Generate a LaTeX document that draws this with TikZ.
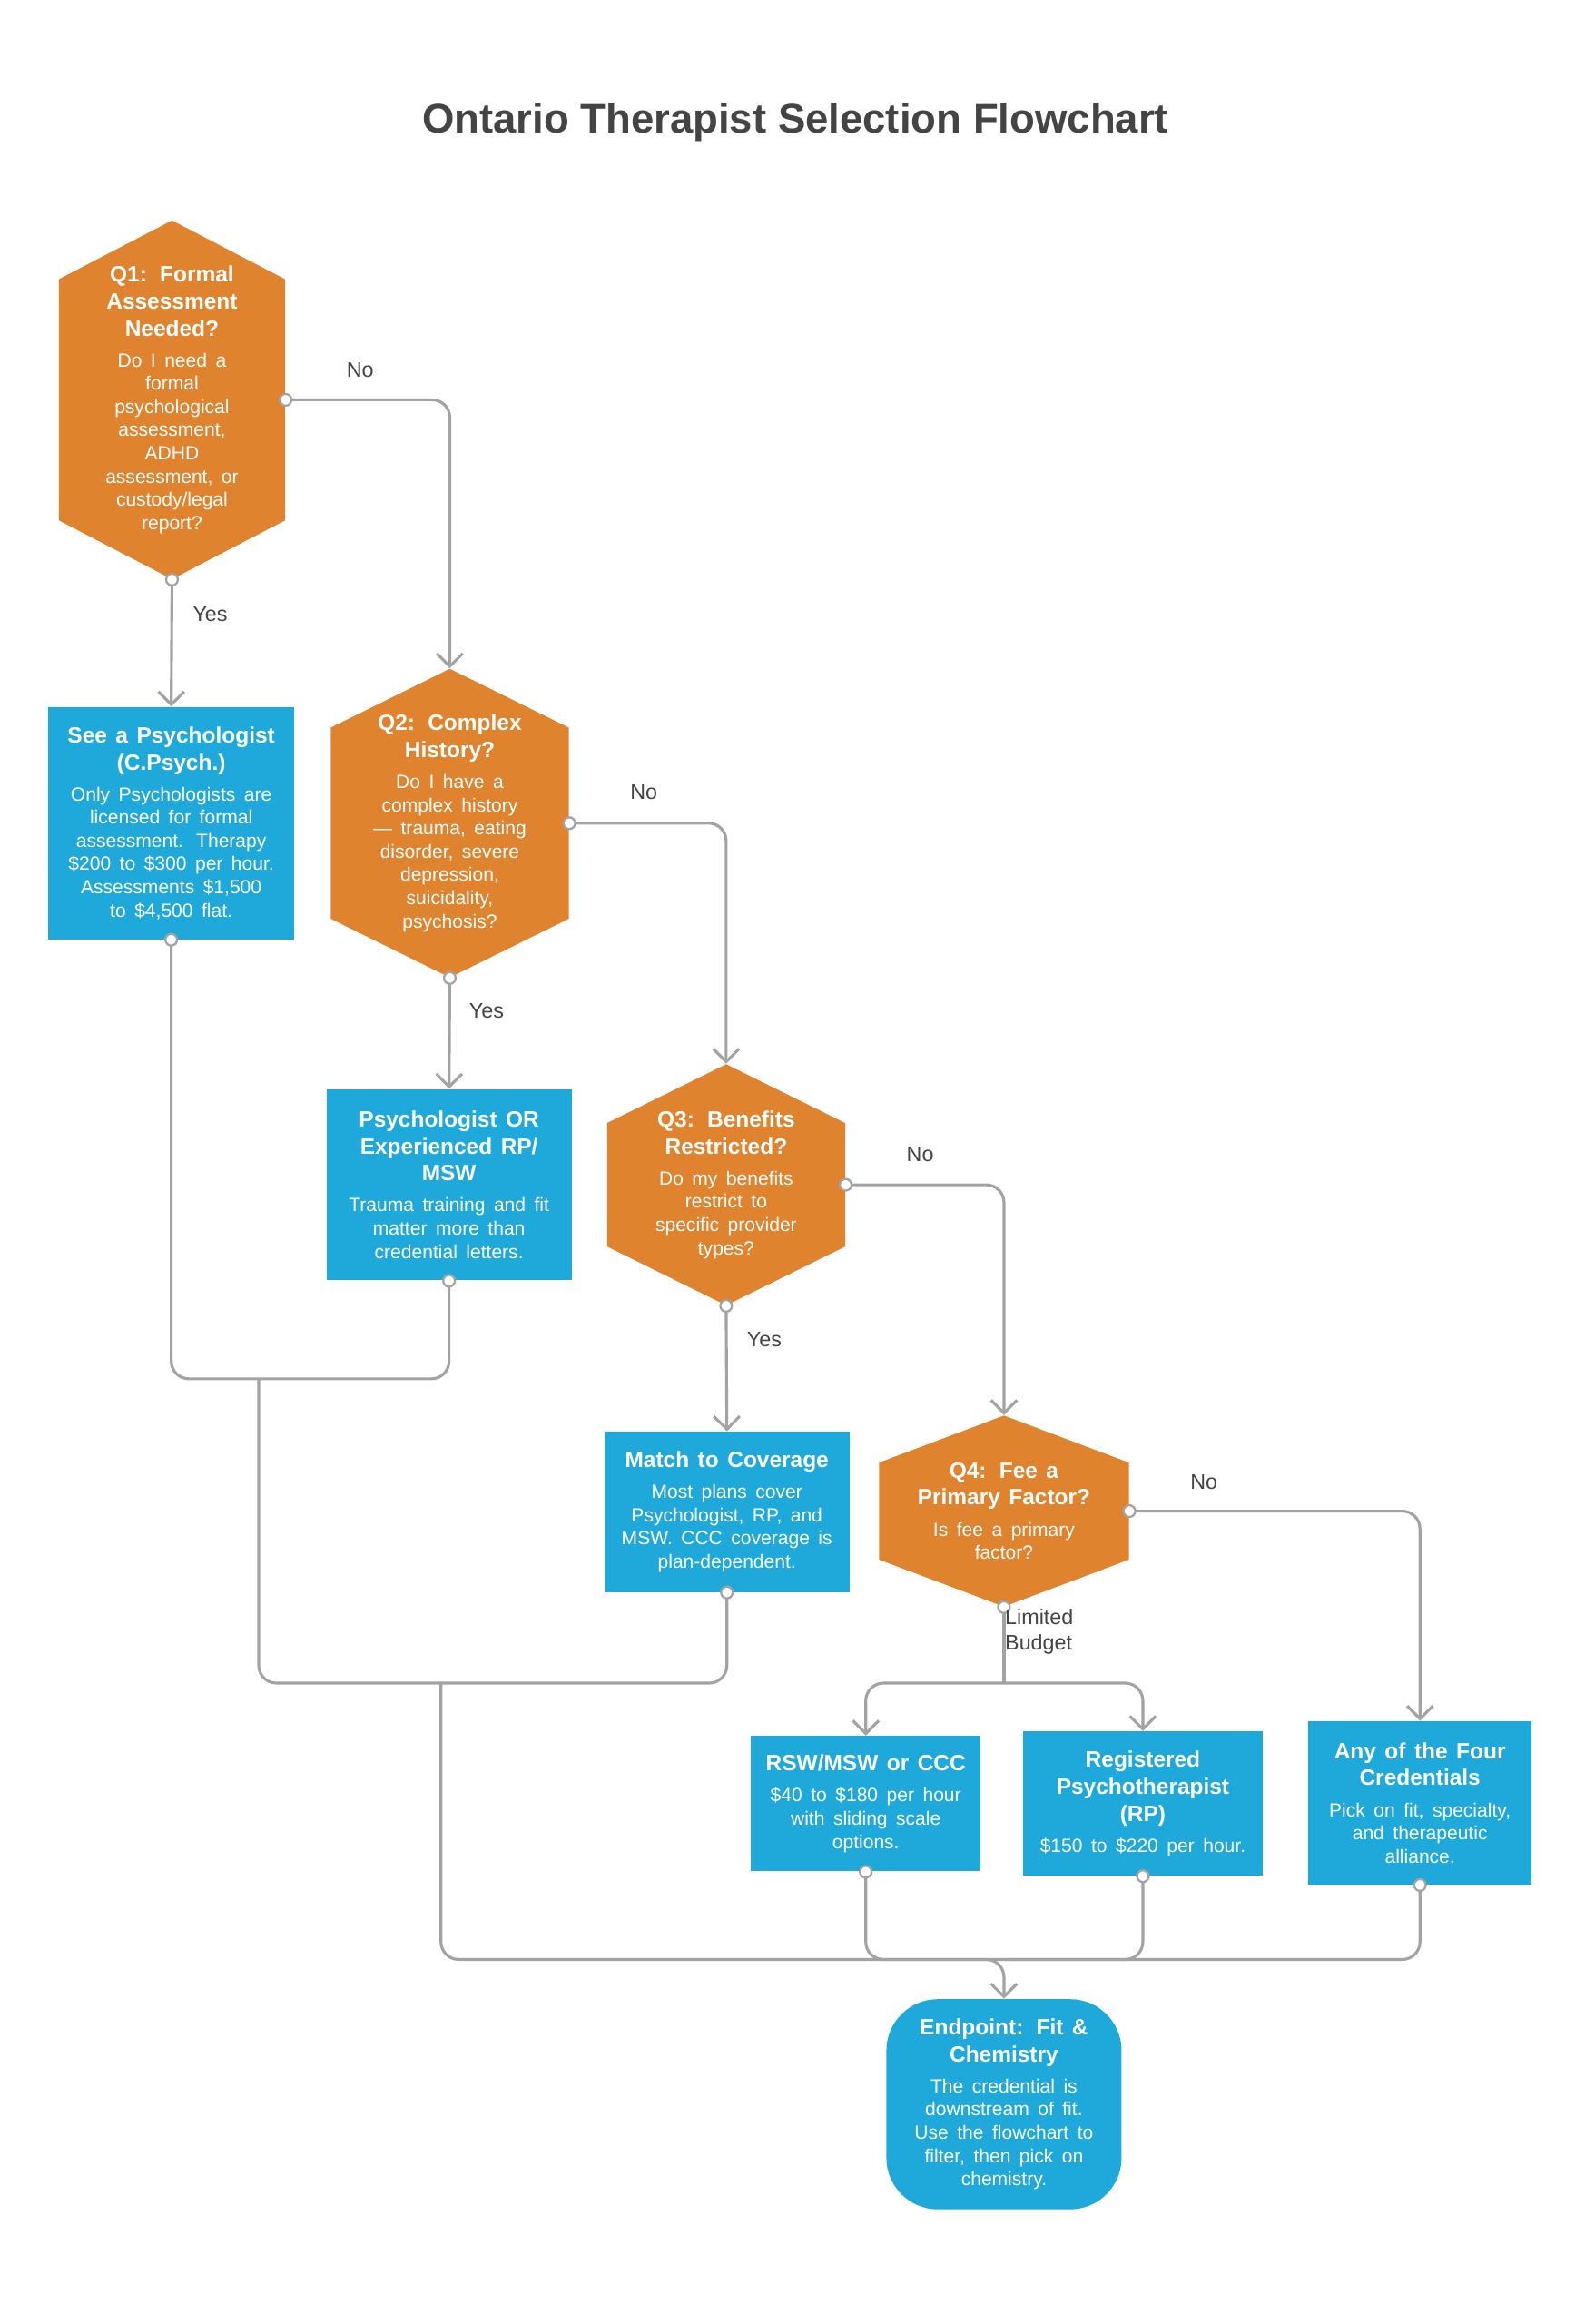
\documentclass[tikz,border=0pt]{standalone}
\usepackage{fontspec}
\setmainfont{Liberation Sans}
\usetikzlibrary{arrows.meta}
\definecolor{orng}{HTML}{E0832F}
\definecolor{blu}{HTML}{1FA9DB}
\definecolor{lgray}{HTML}{A3A3A3}
\definecolor{dgray}{HTML}{444444}
\newcommand\hd[1]{{\bfseries\fontsize{8.6}{10.4}\selectfont #1\par}\vspace{3pt}}
\newcommand\bd[1]{{\fontsize{7.4}{9}\selectfont #1\par}}
% hexagon: name, cx, cy, half width, half height, corner drop, text
\newcommand\hexnode[7]{%
  \fill[orng] ({#2-#4},{#3-#5+#6}) -- (#2,{#3-#5}) -- ({#2+#4},{#3-#5+#6})
    -- ({#2+#4},{#3+#5-#6}) -- (#2,{#3+#5}) -- ({#2-#4},{#3+#5-#6}) -- cycle;
  \node[txt, minimum width={#4*0.04cm}, minimum height={#5*0.04cm},
    text width={(#4-22)*0.04cm}] (#1) at (#2,#3) {#7};}
\tikzset{
  txt/.style={inner sep=0pt, align=center, text=white},
  box/.style={txt, fill=blu},
  line/.style={draw=lgray, line width=1.1pt, rounded corners=0.24cm},
  flow/.style={line, -{Straight Barb[length=5pt,width=10pt]}},
  dot/.style={circle, draw=lgray, fill=white, line width=0.8pt, inner sep=1.6pt},
  lbl/.style={text=dgray, font=\fontsize{8.2}{10}\selectfont}
}
\begin{document}
\begin{tikzpicture}[x=0.02cm, y=-0.02cm]
  \useasboundingbox (0,0) rectangle (1085,1581);
  \node[text=dgray, font=\bfseries\fontsize{16}{19}\selectfont] (title) at (541,83) {Ontario Therapist Selection Flowchart};

  % questions
  \hexnode{q1}{117}{272}{77}{122}{40}{\hd{Q1: Formal\\Assessment\\Needed?}\bd{Do I need a\\formal\\psychological\\assessment,\\ADHD\\assessment, or\\custody/legal\\report?}}
  \hexnode{q2}{306}{560}{81}{105}{40}{\hd{Q2: Complex\\History?}\bd{Do I have a\\complex history\\--- trauma, eating\\disorder, severe\\depression,\\suicidality,\\psychosis?}}
  \hexnode{q3}{494}{806}{81}{82}{40}{\hd{Q3: Benefits\\Restricted?}\bd{Do my benefits\\restrict to\\specific provider\\types?}}
  \hexnode{q4}{683}{1028}{85}{65}{32}{\hd{Q4: Fee a\\Primary Factor?}\bd{Is fee a primary\\factor?}}

  % outcomes
  \node[box, minimum width=3.34cm, minimum height=3.16cm, text width=3.1cm] (r1) at (116.5,560)
    {\hd{See a Psychologist\\(C.Psych.)}\bd{Only Psychologists are\\licensed for formal\\assessment. Therapy\\\$200 to \$300 per hour.\\Assessments \$1,500\\to \$4,500 flat.}};
  \node[box, minimum width=3.34cm, minimum height=2.6cm, text width=3.1cm] (r2) at (305.5,806)
    {\hd{Psychologist OR\\Experienced RP/\\MSW}\bd{Trauma training and fit\\matter more than\\credential letters.}};
  \node[box, minimum width=3.34cm, minimum height=2.18cm, text width=3.1cm] (r3) at (494.5,1028.5)
    {\hd{Match to Coverage}\bd{Most plans cover\\Psychologist, RP, and\\MSW. CCC coverage is\\plan-dependent.}};
  \node[box, minimum width=3.12cm, minimum height=1.84cm, text width=2.9cm] (r4) at (589,1227)
    {\hd{RSW/MSW or CCC}\bd{\$40 to \$180 per hour\\with sliding scale\\options.}};
  \node[box, minimum width=3.26cm, minimum height=1.96cm, text width=3cm] (r5) at (777.5,1227)
    {\hd{Registered\\Psychotherapist\\(RP)}\bd{\$150 to \$220 per hour.}};
  \node[box, minimum width=3.04cm, minimum height=2.22cm, text width=2.8cm] (r6) at (966,1226.5)
    {\hd{Any of the Four\\Credentials}\bd{Pick on fit, specialty,\\and therapeutic\\alliance.}};
  \node[box, rounded corners=0.7cm, minimum width=3.2cm, minimum height=2.86cm, text width=2.8cm] (ep) at (683,1431.5)
    {\hd{Endpoint: Fit \&\\Chemistry}\bd{The credential is\\downstream of fit.\\Use the flowchart to\\filter, then pick on\\chemistry.}};

  % junctions
  \coordinate (mA) at (176,938);
  \coordinate (mB) at (300,1145);
  \coordinate (mC) at (683,1333);
  \coordinate (sp) at (683,1145);

  % decisions
  \draw[flow] (q1.east) -| (q2.north);
  \draw[flow] (q1.south) -- (r1.north);
  \draw[flow] (q2.east) -| (q3.north);
  \draw[flow] (q2.south) -- (r2.north);
  \draw[flow] (q3.east) -| (q4.north);
  \draw[flow] (q3.south) -- (r3.north);
  \draw[flow] (q4.east) -| (r6.north);
  \draw[line] (q4.south) -- (sp);
  \draw[flow] (sp) -| (r4.north);
  \draw[flow] (sp) -| (r5.north);

  % to endpoint
  \draw[line] (r1.south) |- (mA);
  \draw[line] (r2.south) |- (mA);
  \draw[line] (mA) |- (mB);
  \draw[line] (r3.south) |- (mB);
  \draw[flow] (mB) |- (mC) -- (ep.north);
  \draw[line] (r4.south) |- (mC);
  \draw[line] (r5.south) |- (mC);
  \draw[line] (r6.south) |- (mC);

  \foreach \n in {q1.east,q1.south,q2.east,q2.south,q3.east,q3.south,q4.east,q4.south,
                  r1.south,r2.south,r3.south,r4.south,r5.south,r6.south}
    \node[dot] at (\n) {};

  % labels
  \node[lbl] (l1) at (245,252) {No};
  \node[lbl] (l2) at (143,418) {Yes};
  \node[lbl] (l3) at (438,539) {No};
  \node[lbl] (l4) at (331,688) {Yes};
  \node[lbl] (l5) at (626,785) {No};
  \node[lbl] (l6) at (520,911) {Yes};
  \node[lbl] (l7) at (819,1008) {No};
  \node[lbl, align=left] (l8) at (707,1110) {Limited\\Budget};
\end{tikzpicture}
\end{document}
